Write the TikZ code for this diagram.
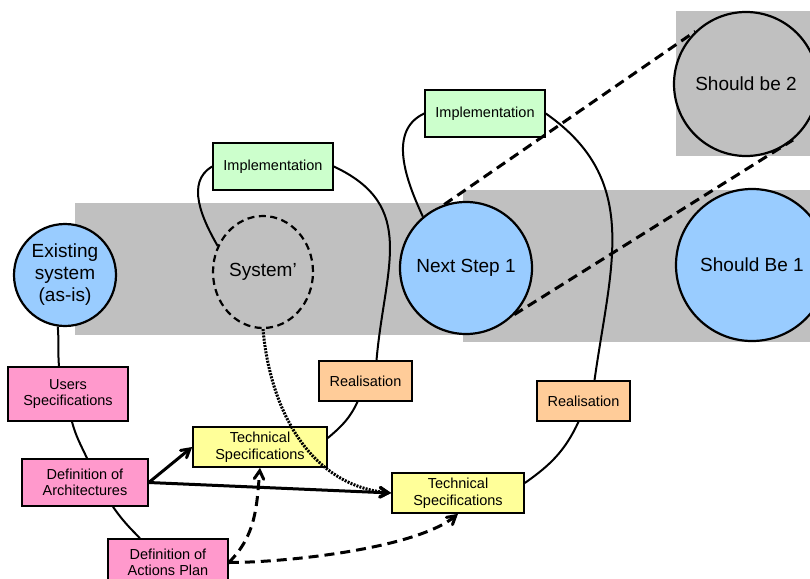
\documentclass[tikz,border=0pt]{standalone}
\usepackage{fontspec}
\setmainfont{Liberation Sans}
\usetikzlibrary{arrows, shapes.geometric}

\definecolor{band}{HTML}{C0C0C0}
\definecolor{sky}{HTML}{99CCFF}
\definecolor{rose}{HTML}{FF99CC}
\definecolor{lemon}{HTML}{FFFF99}
\definecolor{mint}{HTML}{CCFFCC}
\definecolor{peach}{HTML}{FFCC99}

\begin{document}
\begin{tikzpicture}[x=1pt,y=1pt,>=angle 60,
                    box/.style={draw,rectangle,line width=1.6pt,align=center,inner sep=2pt,
                                font=\fontsize{14.5}{16.5}\selectfont},
                    disc/.style={draw,circle,line width=2.2pt,fill=sky,inner sep=0pt,align=center,
                                 font=\fontsize{19}{22}\selectfont},
                    link/.style={line width=2pt},
                    flow/.style={->,line width=3pt},
                    plan/.style={->,line width=3pt,dash pattern=on 10pt off 6pt},
                    trace/.style={->,line width=3pt,dash pattern=on 2pt off 1.2pt},
                    proj/.style={line width=3pt,dash pattern=on 10pt off 6pt}]
                \useasboundingbox (0,0) rectangle (810,-578);
                \fill[band] (75,-203) rectangle (463,-335);
                \fill[band] (463,-190) rectangle (810,-342);
                \fill[band] (676,-11) rectangle (810,-156);

                \node[disc, minimum size=102pt] (es) at (65,-275) {Existing\\system\\(as-is)};
                \node[draw, ellipse, line width=2.2pt, dash pattern=on 7pt off 4.5pt, minimum width=100pt,
                      minimum height=112pt, inner sep=0pt, font=\fontsize{19}{22}\selectfont] (sys) at (263,-272) {System'};
                \node[disc, minimum size=132pt] (ns) at (466,-268) {Next Step 1};
                \node[disc, minimum size=152pt] (sb1) at (752,-265) {Should Be 1};
                \node[disc, fill=band, minimum size=144pt] (sb2) at (746,-84) {Should be 2};

                \node[box, fill=mint, minimum width=120pt, minimum height=47pt] (imp1) at (273,-166.5) {Implementation};
                \node[box, fill=mint, minimum width=120pt, minimum height=47pt] (imp2) at (485,-113.5) {Implementation};
                \node[box, fill=rose, minimum width=120pt, minimum height=54pt] (us) at (68,-394) {Users\\Specifications};
                \node[box, fill=rose, minimum width=126pt, minimum height=47pt] (da) at (85,-482.5) {Definition of\\Architectures};
                \node[box, fill=rose, minimum width=120pt, minimum height=47pt] (ap) at (168,-562.5) {Definition of\\Actions Plan};
                \node[box, fill=lemon, minimum width=134pt, minimum height=40pt] (ts1) at (260,-447) {Technical\\Specifications};
                \node[box, fill=lemon, minimum width=132pt, minimum height=40pt] (ts2) at (458,-493) {Technical\\Specifications};
                \node[box, fill=peach, minimum width=93pt, minimum height=40pt] (real1) at (365.5,-381) {Realisation};
                \node[box, fill=peach, minimum width=93pt, minimum height=40pt] (real2) at (583.5,-401) {Realisation};

                \path[link]
                (es.262) edge [out=-85, in=95] ([xshift=-9pt]us.north)
                ([xshift=4pt]us.south) edge [out=-75, in=115] ([xshift=2pt]da.north)
                ([xshift=28pt]da.south) edge [out=-55, in=135] ([xshift=-28pt]ap.north)
                (imp1.west) edge [out=210, in=120] (sys.150)
                (imp1.east) edge [out=-25, in=85, looseness=1.2] ([xshift=11pt]real1.north)
                ([xshift=-8pt]real1.south) edge [out=-115, in=40] ([yshift=9pt]ts1.east)
                (imp2.west) edge [out=205, in=115] (ns.130)
                (imp2.east) edge [out=-35, in=82, looseness=1.1] ([xshift=11pt]real2.north)
                ([xshift=-5pt]real2.south) edge [out=-115, in=35] ([yshift=10pt]ts2.east)
                ;

                \path
                (da.east) edge [flow] (ts1.west)
                          edge [flow] (ts2.west)
                (ap.east) edge [plan, out=45, in=-95] (ts1.south)
                          edge [plan, out=0, in=220, looseness=0.6] (ts2.south)
                (sys.south) edge [trace, out=-85, in=175] (ts2.west)
                (ns.109) edge [proj] (sb2.134)
                (ns.-44) edge [proj] (sb2.-50)
                ;
            \end{tikzpicture}
\end{document}
